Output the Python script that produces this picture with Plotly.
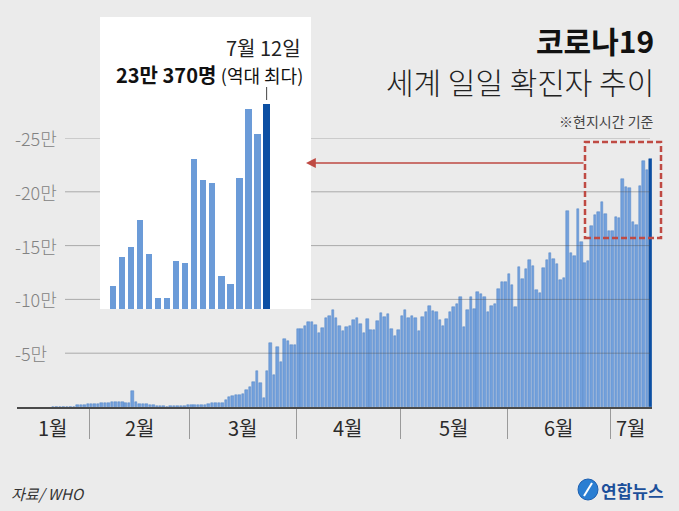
import plotly.graph_objects as go
import pandas as pd

W, H = 679, 511

# ---- data (daily new cases, WHO) ----
start_date = "2020-01-21"
jan = [50, 100, 150, 200, 250, 300, 400, 2000, 2000, 2200, 2400]
feb = [2800, 3000, 3200, 3500, 3800, 4000, 4200, 4300, 4300, 4200, 4000, 3800, 15000,
       4500, 3200, 2800, 2500, 2300, 2000, 500, 600, 500, 400, 500, 800, 800, 1000, 1200, 1500]
mar = [1800, 1800, 2000, 2200, 2200, 2700, 3700, 3600, 3900, 4100, 6200, 9300, 10600,
       11200, 11200, 11800, 15600, 18700, 23400, 33300, 22400, 8700, 33600, 59800, 29600,
       56000, 41400, 63000, 61700, 57600, 57600]
apr = [72500, 72500, 75000, 79000, 79000, 76500, 69000, 73000, 82500, 85000, 90000, 83000,
       75000, 71000, 74000, 75500, 81000, 83000, 77000, 69000, 82000, 71500, 71500, 79500,
       87500, 84000, 86500, 72500, 66000, 72000]
may = [84500, 90000, 83000, 85000, 83000, 71000, 84000, 88500, 94000, 89500, 88500, 81000,
       75000, 82000, 88500, 92500, 96000, 102500, 74500, 90000, 102500, 90700, 106500,
       105000, 102000, 88500, 94000, 96000, 110000, 116500, 116000]
jun = [124000, 113000, 93000, 130000, 119000, 128000, 137000, 131000, 109000, 106000,
       129000, 137000, 143000, 138000, 133000, 118000, 120000, 182000, 143000, 140000,
       184000, 153000, 134000, 136000, 168200, 178200, 181600, 190700, 179100, 164000]
jul = [164000, 176800, 175900, 211600, 204500, 203200, 171600, 168900, 205100, 228500,
       220200, 230370]

inset_days = 18

y_tick_values = [50000, 100000, 150000, 200000, 250000]
y_tick_labels = ["-5만", "-10만", "-15만", "-20만", "-25만"]
month_labels = ["1월", "2월", "3월", "4월", "5월", "6월", "7월"]
month_starts = ["2020-02-01", "2020-03-01", "2020-04-01", "2020-05-01", "2020-06-01", "2020-07-01"]

title = "코로나19"
subtitle = "세계 일일 확진자 추이"
note = "※현지시간 기준"
record_date = "7월 12일"
record_value = "23만 370명"
record_note = "(역대 최다)"
source = "자료/ WHO"
logo_text = "연합뉴스"

# ---- styling ----
FONT = "Noto Sans CJK KR, Noto Sans, sans-serif"
BG = "#ebebeb"
BAR = "#72a0dc"
BAR_EDGE = "#5584c6"
INSET_BAR = "#6b9bd8"
DARK = "#0c4fa3"
RED = "#bf4a43"
DAY_MS = 86400000


def px(x):
    return x / W


def py(y):
    return 1 - y / H


values = jan + feb + mar + apr + may + jun + jul
dates = pd.date_range(start_date, periods=len(values), freq="D")
x_range = [pd.Timestamp("2020-01-10 12:00"), pd.Timestamp("2020-07-12 12:00")]

fig = go.Figure()

main_colors = [BAR] * (len(values) - 1) + [DARK]
main_edges = [BAR_EDGE] * (len(values) - 1) + [DARK]
fig.add_trace(go.Bar(
    x=dates, y=values, width=0.72 * DAY_MS,
    marker=dict(color=main_colors, line=dict(color=main_edges, width=0.5)),
    xaxis="x", yaxis="y", hoverinfo="skip", showlegend=False,
))

inset_x = dates[-inset_days:]
inset_y = values[-inset_days:]
fig.add_trace(go.Bar(
    x=inset_x, y=inset_y, width=0.7 * DAY_MS,
    marker=dict(color=[INSET_BAR] * (inset_days - 1) + [DARK], line=dict(width=0)),
    xaxis="x2", yaxis="y2", hoverinfo="skip", showlegend=False,
))

boundaries = [pd.Timestamp(m) - pd.Timedelta(hours=12) for m in month_starts]

shapes = []
annotations = []

# inset white panel
shapes.append(dict(type="rect", xref="paper", yref="paper",
                   x0=px(100), x1=px(311), y0=py(309), y1=py(17),
                   fillcolor="white", line=dict(width=0), layer="below"))

# gridlines (drawn above bars, interrupted by the inset panel)
GRID = "rgba(80,80,80,0.42)"
for v in y_tick_values:
    segs = [(65, 100), (311, 650)] if v >= 100000 else [(65, 650)]
    for a, b in segs:
        shapes.append(dict(type="line", xref="paper", yref="y",
                           x0=px(a), x1=px(b), y0=v, y1=v,
                           line=dict(color=GRID, width=1), layer="above"))

for v, t in zip(y_tick_values, y_tick_labels):
    annotations.append(dict(x=px(13), y=v, xref="paper", yref="y", text=t,
                            showarrow=False, xanchor="left", yanchor="middle",
                            font=dict(family=FONT, size=18, color="#828282", weight=300)))

# month labels centred between separators
edges = [x_range[0]] + boundaries + [x_range[1]]
for i, lab in enumerate(month_labels):
    mid = edges[i] + (edges[i + 1] - edges[i]) / 2
    annotations.append(dict(x=mid, y=py(427), xref="x", yref="paper", text=lab,
                            showarrow=False, xanchor="center", yanchor="middle",
                            font=dict(family=FONT, size=20, color="#2b2b2b")))

# highlight box and arrow
shapes.append(dict(type="rect", xref="paper", yref="paper",
                   x0=px(585), x1=px(661), y0=py(238), y1=py(142),
                   line=dict(color=RED, width=2.5, dash="6px,3px"), layer="above"))
annotations.append(dict(x=px(306), y=py(163), xref="paper", yref="paper", text="",
                        showarrow=True, ax=279, ay=0, arrowhead=2, arrowsize=1.4,
                        arrowwidth=1.4, arrowcolor=RED))

# inset labels
shapes.append(dict(type="line", xref="x2", yref="paper",
                   x0=inset_x[-1], x1=inset_x[-1], y0=py(100), y1=py(87),
                   line=dict(color="#444", width=1)))
annotations.append(dict(x=px(303), y=py(47), xref="paper", yref="paper", text=record_date,
                        showarrow=False, xanchor="right", yanchor="middle",
                        font=dict(family=FONT, size=20, color="#222")))
annotations.append(dict(x=px(305), y=py(74), xref="paper", yref="paper",
                        text=f"<b>{record_value}</b> <span style='font-size:18px'>{record_note}</span>",
                        showarrow=False, xanchor="right", yanchor="middle",
                        font=dict(family=FONT, size=20, color="#111")))

# titles
annotations.append(dict(x=px(656), y=py(40), xref="paper", yref="paper", text=f"<b>{title}</b>",
                        showarrow=False, xanchor="right", yanchor="middle",
                        font=dict(family=FONT, size=30, color="#111")))
annotations.append(dict(x=px(656), y=py(81), xref="paper", yref="paper", text=subtitle,
                        showarrow=False, xanchor="right", yanchor="middle",
                        font=dict(family=FONT, size=30, color="#222", weight=300)))
annotations.append(dict(x=px(656), y=py(121), xref="paper", yref="paper", text=note,
                        showarrow=False, xanchor="right", yanchor="middle",
                        font=dict(family=FONT, size=14, color="#444")))

# source and logo
annotations.append(dict(x=px(9), y=py(493), xref="paper", yref="paper", text=f"<i>{source}</i>",
                        showarrow=False, xanchor="left", yanchor="middle",
                        font=dict(family=FONT, size=15, color="#333")))
shapes.append(dict(type="circle", xref="paper", yref="paper",
                   x0=px(578), x1=px(598), y0=py(500), y1=py(479),
                   fillcolor="#2a7ed2", line=dict(color="#1d5fb0", width=1)))
shapes.append(dict(type="line", xref="paper", yref="paper",
                   x0=px(584), x1=px(592), y0=py(496), y1=py(483),
                   line=dict(color="white", width=2)))
annotations.append(dict(x=px(599), y=py(490), xref="paper", yref="paper", text=f"<b>{logo_text}</b>",
                        showarrow=False, xanchor="left", yanchor="middle",
                        font=dict(family=FONT, size=17, color="#1c4f9a")))

fig.update_layout(
    width=W, height=H,
    margin=dict(l=0, r=0, t=0, b=0),
    paper_bgcolor=BG, plot_bgcolor="rgba(0,0,0,0)",
    bargap=0, showlegend=False,
    shapes=shapes, annotations=annotations,
    xaxis=dict(domain=[px(17), px(652)], range=x_range, type="date",
               showline=True, linecolor="#4a4a4a", linewidth=2,
               ticks="outside", tickmode="array", tickvals=boundaries, ticklen=30,
               tickcolor="#9a9a9a", tickwidth=1, showticklabels=False,
               showgrid=False, zeroline=False, anchor="y", fixedrange=True),
    yaxis=dict(domain=[py(407), py(138)], range=[0, 250000], visible=False,
               anchor="x", fixedrange=True),
    xaxis2=dict(domain=[px(100), px(311)],
                range=[pd.Timestamp("2020-06-23 14:24"), pd.Timestamp("2020-07-16 21:36")],
                type="date", visible=False, anchor="y2"),
    yaxis2=dict(domain=[py(309), py(17)], range=[160360, 259930], visible=False, anchor="x2"),
)

fig.write_html(
    "out.html",
    config={"displayModeBar": False},
    post_script="document.body.style.margin='0';document.body.style.background='" + BG + "';",
)
